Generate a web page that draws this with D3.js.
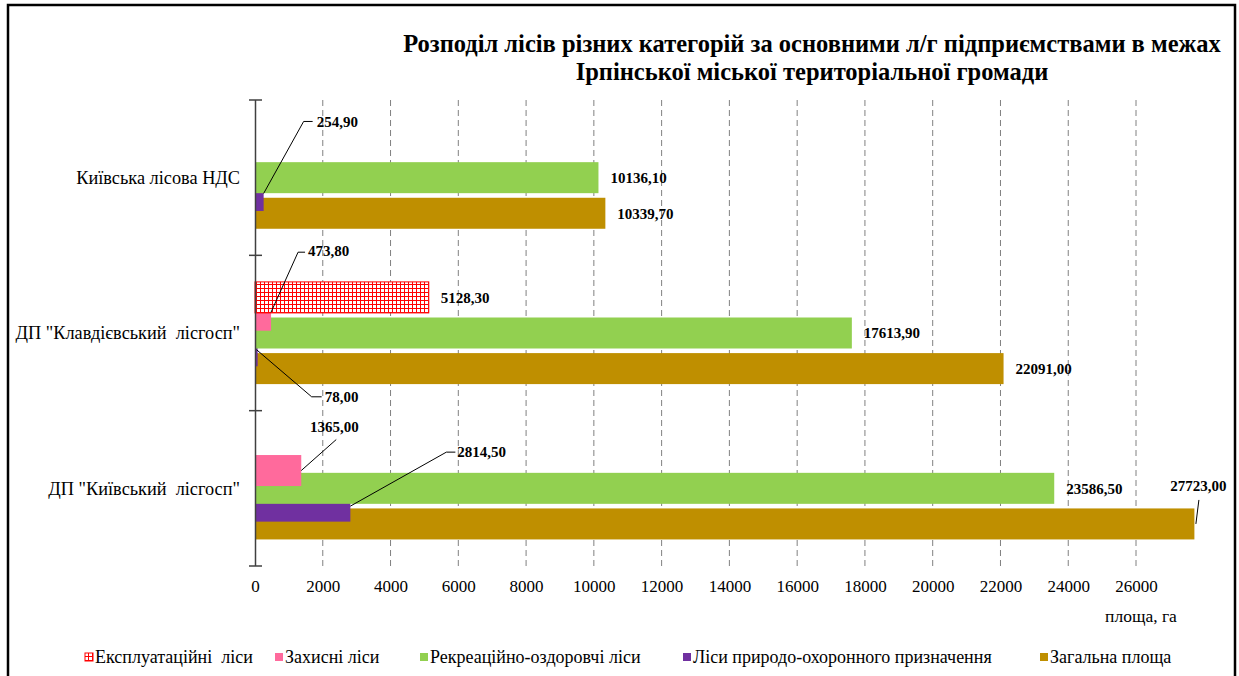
<!DOCTYPE html>
<html>
<head>
<meta charset="utf-8">
<script src="https://cdn.jsdelivr.net/npm/d3@7"></script>
<style>
  body { margin: 0; background: #fff; }
  svg text { font-family: "Liberation Serif", "Times New Roman", serif; }
</style>
</head>
<body>
<div id="chart"></div>
<script>
const categories = ['Київська лісова НДС', 'ДП "Клавдієвський  лісгосп"', 'ДП "Київський  лісгосп"'];
const seriesNames = ['Експлуатаційні  ліси', 'Захисні ліси', 'Рекреаційно-оздоровчі ліси',
    'Ліси природо-охоронного призначення', 'Загальна площа'];
const exploitValues = [null, 5128.3, null];
const protectValues = [null, 473.8, 1365.0];
const recreationValues = [10136.1, 17613.9, 23586.5];
const natureValues = [254.9, 78.0, 2814.5];
const totalValues = [10339.7, 22091.0, 27723.0];
const xTicks = [0, 2000, 4000, 6000, 8000, 10000, 12000, 14000, 16000, 18000, 20000, 22000, 24000, 26000];

const seriesValues = [exploitValues, protectValues, recreationValues, natureValues, totalValues];
const colors = ['url(#hatch)', '#FF6A9C', '#92D050', '#7030A0', '#BF8F00'];
const legendX = [85, 275, 420, 683, 1040];

// label placement for the small bars: offsets from the bar end / bar centre
const leaders = {
    '3|0': { start: [0, -2], corner: [40, -74], end: [49, -74], label: [53, -74], anchor: 'start' },
    '1|1': { start: [0, -3], corner: [27, -63], end: [34, -63], label: [37, -64], anchor: 'start' },
    '3|1': { start: [-1, -1], corner: [54, 46], end: [64, 46], label: [67, 46], anchor: 'start' },
    '1|2': { start: [0, 0], corner: [35, -31], end: null, label: [33, -44], anchor: 'middle' },
    '3|2': { start: [0, 0], corner: [96, -54], end: [105, -54], label: [107, -54], anchor: 'start' },
    '4|2': { start: [1.5, 0], corner: [4.5, -24], end: null, label: [4, -38], anchor: 'middle' }
};

const W = 1239, H = 676;
const serif = '"Liberation Serif", "Times New Roman", serif';
const svg = d3.select('#chart').append('svg').attr('width', W).attr('height', H);

const defs = svg.append('defs');
const pat = defs.append('pattern')
    .attr('id', 'hatch')
    .attr('width', 4).attr('height', 4)
    .attr('patternUnits', 'userSpaceOnUse');
pat.append('rect').attr('width', 4).attr('height', 4).attr('fill', '#fff');
pat.append('path').attr('d', 'M0,0.5H4M0.5,0V4').attr('stroke', '#FF0000').attr('stroke-width', 1);

// frame
svg.append('rect')
    .attr('x', 8).attr('y', 5)
    .attr('width', 1227).attr('height', 700)
    .attr('fill', 'none').attr('stroke', '#000').attr('stroke-width', 2.5);

// title, fitted to the width it takes in the original
const titleLines = ['Розподіл лісів різних категорій за основними л/г підприємствами в межах',
    'Ірпінської міської територіальної громади'];
const t1 = svg.append('text')
    .attr('x', 812).attr('y', 52)
    .attr('text-anchor', 'middle')
    .style('font-family', serif)
    .style('font-weight', 'bold')
    .style('font-size', '22px')
    .text(titleLines[0]);
const fs = 22 * 818 / t1.node().getComputedTextLength();
t1.style('font-size', fs + 'px');
svg.append('text')
    .attr('x', 812).attr('y', 80)
    .attr('text-anchor', 'middle')
    .style('font-family', serif)
    .style('font-weight', 'bold')
    .style('font-size', fs + 'px')
    .text(titleLines[1]);

const x = d3.scaleLinear().domain([0, 28000]).range([255, 255 + 28000 * 0.033885]);
const y = d3.scaleBand().domain(categories).range([100, 566]);
const slot = d3.scalePoint().domain(d3.range(5)).range([-35.6, 35.6]);
const barH = 31;

// grid
svg.append('g')
    .selectAll('line')
    .data(xTicks.filter(d => d > 0))
    .enter()
    .append('line')
    .attr('x1', d => x(d)).attr('x2', d => x(d))
    .attr('y1', 100).attr('y2', 566)
    .attr('stroke', '#808080')
    .attr('stroke-width', 1)
    .attr('stroke-dasharray', '6,4');

// x tick labels (no axis line in the original)
const xAxis = svg.append('g')
    .attr('transform', 'translate(0, 566)')
    .call(d3.axisBottom(x).tickValues(xTicks).tickSize(0).tickPadding(14).tickFormat(d3.format('d')));
xAxis.select('.domain').remove();
xAxis.selectAll('.tick text')
    .style('font-family', serif)
    .style('font-size', '17px')
    .attr('fill', '#000');

svg.append('text')
    .attr('x', 1141).attr('y', 622)
    .attr('text-anchor', 'middle')
    .style('font-family', serif)
    .style('font-size', '17.5px')
    .text('площа, га');

// bars, last series first so the first one ends up on top
const barData = [];
for (let s = seriesValues.length - 1; s >= 0; s--) {
    categories.forEach((c, i) => {
        const v = seriesValues[s][i];
        if (v !== null) barData.push({ s, i, c, v });
    });
}
const cy = d => y(d.c) + y.bandwidth() / 2 + slot(d.s);

svg.append('g')
    .selectAll('rect')
    .data(barData)
    .enter()
    .append('rect')
    .attr('x', x(0))
    .attr('y', d => cy(d) - barH / 2)
    .attr('width', d => x(d.v) - x(0))
    .attr('height', barH)
    .attr('fill', d => colors[d.s])
    .attr('stroke', d => d.s === 0 ? '#FF0000' : 'none')
    .attr('stroke-width', 1);

// y axis
svg.append('line')
    .attr('x1', 255.5).attr('x2', 255.5)
    .attr('y1', 100).attr('y2', 566)
    .attr('stroke', '#404040').attr('stroke-width', 1.5);
svg.append('g')
    .selectAll('line')
    .data(categories.concat(['end']))
    .enter()
    .append('line')
    .attr('x1', 249).attr('x2', 262)
    .attr('y1', (d, i) => i < categories.length ? y(d) : y.range()[1])
    .attr('y2', (d, i) => i < categories.length ? y(d) : y.range()[1])
    .attr('stroke', '#404040').attr('stroke-width', 1.5);

svg.append('g')
    .selectAll('text')
    .data(categories)
    .enter()
    .append('text')
    .attr('x', 240)
    .attr('y', d => y(d) + y.bandwidth() / 2)
    .attr('dy', '0.35em')
    .attr('text-anchor', 'end')
    .style('font-family', serif)
    .style('font-size', '18.3px')
    .style('white-space', 'pre')
    .text(d => d);

// value labels
const fmt = v => v.toFixed(2).replace('.', ',');
const labels = svg.append('g');
barData.forEach(d => {
    const bx = x(d.v), by = cy(d);
    const L = leaders[d.s + '|' + d.i];
    if (L) {
        const pts = [L.start, L.corner].concat(L.end ? [L.end] : []);
        labels.append('path')
            .attr('d', d3.line()(pts.map(p => [bx + p[0], by + p[1]])))
            .attr('fill', 'none')
            .attr('stroke', '#000')
            .attr('stroke-width', 1);
        labels.append('text')
            .attr('x', bx + L.label[0]).attr('y', by + L.label[1])
            .attr('dy', '0.35em')
            .attr('text-anchor', L.anchor)
            .style('font-family', serif)
            .style('font-size', '15px').style('font-weight', 'bold')
            .text(fmt(d.v));
    } else {
        labels.append('text')
            .attr('x', bx + 12).attr('y', by)
            .attr('dy', '0.35em')
            .style('font-family', serif)
            .style('font-size', '15px').style('font-weight', 'bold')
            .text(fmt(d.v));
    }
});

// legend
const legend = svg.append('g');
seriesNames.forEach((name, s) => {
    const lx = legendX[s];
    legend.append('rect')
        .attr('x', lx).attr('y', 653)
        .attr('width', 8).attr('height', 8)
        .attr('fill', colors[s])
        .attr('stroke', s === 0 ? '#FF0000' : 'none');
    legend.append('text')
        .attr('x', lx + 10).attr('y', 657)
        .attr('dy', '0.35em')
        .style('font-family', serif)
        .style('font-size', '18px')
        .style('white-space', 'pre')
        .text(name);
});
</script>
</body>
</html>
